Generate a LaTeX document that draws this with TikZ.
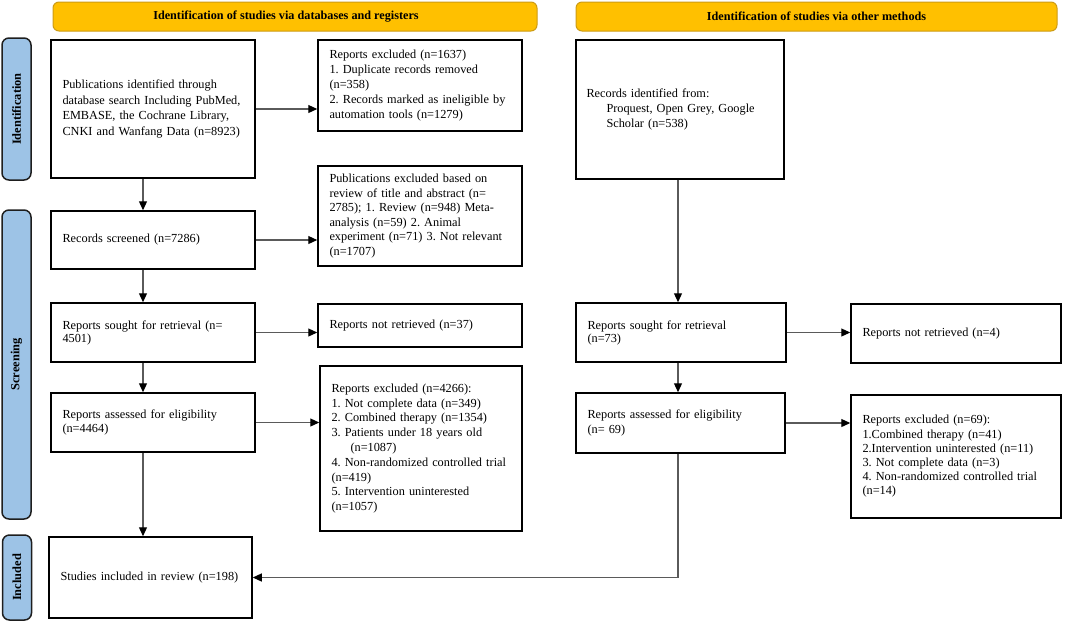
\documentclass[tikz,border=0pt]{standalone}
\usepackage{fontspec}
\setmainfont{Liberation Serif}
\usetikzlibrary{arrows.meta}
\definecolor{bannerfill}{RGB}{255,192,0}
\definecolor{bannerline}{RGB}{205,155,20}
\definecolor{sidefill}{RGB}{157,195,230}
\definecolor{sideline}{RGB}{30,30,30}
\definecolor{conn}{RGB}{90,90,90}
\frenchspacing
\begin{document}
\frenchspacing
\begin{tikzpicture}[x=1pt,y=-1pt,
  box/.style={draw=black, line width=1.5pt, rectangle, align=left, inner xsep=11.5pt, inner ysep=3pt,
    font=\fontsize{12.3}{14.8}\selectfont},
  banner/.style={draw=bannerline, fill=bannerfill, line width=1pt, rounded corners=6pt,
    font=\bfseries\fontsize{12.2}{14}\selectfont, minimum height=29pt, inner sep=0pt},
  side/.style={draw=sideline, fill=sidefill, line width=1.5pt, rounded corners=7pt, rotate=90,
    font=\bfseries\fontsize{12.4}{14}\selectfont, minimum height=29pt, inner sep=0pt},
  arr/.style={draw=conn, line width=1.2pt, -{Triangle[length=9pt,width=8pt,color=black]}},
  link/.style={draw=conn, line width=1.2pt}]
\useasboundingbox (0,0) rectangle (1065,622);

% banners
\node[banner, minimum width=484pt] (ban1) at (295,16.5) {\hspace*{-18pt}Identification of studies via databases and registers};
\node[banner, minimum width=481pt] (ban2) at (816.5,16.5) {Identification of studies via other methods};

% side labels
\node[side, minimum width=142pt] (sid1) at (16.5,109) {Identification};
\node[side, minimum width=309pt] (sid2) at (16.5,364.5) {Screening};
\node[side, minimum width=85pt] (sid3) at (17,577.5) {Included};

% left column
\node[box, minimum width=204pt, minimum height=138pt, text width=181pt, font=\fontsize{12.3}{15.7}\selectfont] (A) at (153,109)
  {Publications identified through\\database search Including PubMed,\\EMBASE, the Cochrane Library,\\CNKI and Wanfang Data (n=8923)};
\node[box, minimum width=204pt, minimum height=91pt, text width=181pt] (B) at (420,85.5)
  {Reports excluded (n=1637)\\1. Duplicate records removed\\(n=358)\\2. Records marked as ineligible by\\automation tools (n=1279)};
\node[box, minimum width=204pt, minimum height=100pt, text width=181pt, font=\fontsize{12.3}{14.6}\selectfont] (C) at (420,216)
  {Publications excluded based on\\review of title and abstract (n=\\2785); 1. Review (n=948) Meta-\\analysis (n=59) 2. Animal\\experiment (n=71) 3. Not relevant\\(n=1707)};
\node[box, minimum width=204pt, minimum height=58pt, text width=181pt] (D) at (153,240)
  {Records screened (n=7286)};
\node[box, minimum width=204pt, minimum height=59pt, text width=181pt, font=\fontsize{12.3}{13}\selectfont] (E) at (153,332.5)
  {Reports sought for retrieval (n=\\4501)};
\node[box, minimum width=204pt, minimum height=43pt, text width=181pt] (F) at (420,325.5)
  {Reports not retrieved (n=37)};
\node[box, minimum width=204pt, minimum height=59pt, text width=181pt] (G) at (153,422.5)
  {Reports assessed for eligibility\\(n=4464)};
\node[box, minimum width=202pt, minimum height=165pt, text width=179pt] (H) at (421,448.5)
  {Reports excluded (n=4266):\\1. Not complete data (n=349)\\2. Combined therapy (n=1354)\\3. Patients under 18 years old\\\hspace*{19pt}(n=1087)\\4. Non-randomized controlled trial\\(n=419)\\5. Intervention uninterested\\(n=1057)};
\node[box, minimum width=203pt, minimum height=81pt, text width=180pt] (I) at (150.5,577.5)
  {Studies included in review (n=198)};

% right column
\node[box, minimum width=208pt, minimum height=139pt, text width=187pt, inner xsep=10.5pt] (J) at (680,109.5)
  {Records identified from:\\\hspace*{20pt}Proquest, Open Grey, Google\\\hspace*{20pt}Scholar (n=538)};
\node[box, minimum width=210pt, minimum height=59pt, text width=187pt, font=\fontsize{12.3}{13}\selectfont] (K) at (681,332.5)
  {Reports sought for retrieval\\(n=73)};
\node[box, minimum width=210pt, minimum height=59pt, text width=187pt] (L) at (956,333.5)
  {Reports not retrieved (n=4)};
\node[box, minimum width=209pt, minimum height=60pt, text width=186pt] (M) at (680.5,423)
  {Reports assessed for eligibility\\(n= 69)};
\node[box, minimum width=210pt, minimum height=123pt, text width=187pt, font=\fontsize{12.3}{14.2}\selectfont] (N) at (956,456.5)
  {Reports excluded (n=69):\\1.Combined therapy (n=41)\\2.Intervention uninterested (n=11)\\3. Not complete data (n=3)\\4. Non-randomized controlled trial\\(n=14)};

% column coordinates
\coordinate (cl) at (143,0);
\coordinate (cr) at (678,0);

% connectors
\draw[arr] (A.east) -- (A.east -| B.west);
\draw[arr] (D.east) -- (D.east -| C.west);
\draw[arr] (E.east) -- (E.east -| F.west);
\draw[arr] (G.east) -- (G.east -| H.west);
\draw[arr] (A.south -| cl) -- (D.north -| cl);
\draw[arr] (D.south -| cl) -- (E.north -| cl);
\draw[arr] (E.south -| cl) -- (G.north -| cl);
\draw[arr] (G.south -| cl) -- (I.north -| cl);

\draw[arr] (J.south -| cr) -- (K.north -| cr);
\draw[arr] (K.south -| cr) -- (M.north -| cr);
\draw[arr] (K.east) -- (K.east -| L.west);
\draw[arr] (M.east) -- (M.east -| N.west);
\draw[arr] (M.south -| cr) |- (I.east);
\end{tikzpicture}
\end{document}
